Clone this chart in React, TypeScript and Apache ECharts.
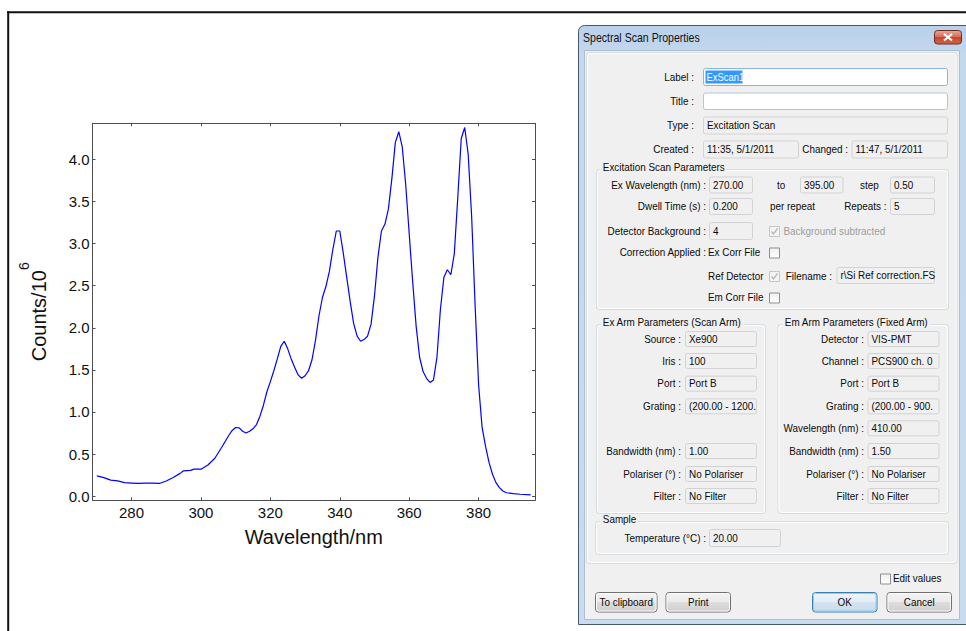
import React, { useEffect, useRef } from "react";
import * as echarts from "echarts";

// Excitation spectrum: wavelength (nm) and detector counts (x10^6)
const wavelengthNm = [
  270, 272, 274, 276, 278, 280, 282, 284, 286, 288, 290, 292, 294, 295, 297, 298, 300,
  302, 304, 306, 308, 309, 310, 311, 312, 313, 314, 315, 316, 317, 318, 319, 320,
  321, 322, 323, 324, 325, 326, 327, 328, 329, 330, 331, 332, 333, 334, 335, 336,
  337, 338, 339, 340, 341, 342, 343, 344, 345, 346, 347, 348, 349, 350, 351, 352,
  353, 354, 355, 356, 357, 358, 359, 360, 361, 362, 363, 364, 365, 366, 367, 368,
  369, 370, 371, 372, 373, 374, 375, 376, 377, 378, 379, 380, 381, 382, 383, 384,
  385, 386, 387, 388, 390, 392, 395,
];
const countsMillions = [
  0.24, 0.22, 0.19, 0.18, 0.16, 0.155, 0.15, 0.155, 0.155, 0.15, 0.18, 0.22, 0.27, 0.3, 0.305, 0.32, 0.32,
  0.37, 0.45, 0.58, 0.72, 0.78, 0.815, 0.81, 0.77, 0.75, 0.77, 0.8, 0.85, 0.95, 1.08, 1.24, 1.36,
  1.49, 1.63, 1.78, 1.84, 1.75, 1.63, 1.53, 1.44, 1.4, 1.43, 1.49, 1.62, 1.85, 2.14, 2.36, 2.49,
  2.67, 2.93, 3.15, 3.15, 2.89, 2.6, 2.31, 2.05, 1.9, 1.84, 1.86, 1.9, 2.04, 2.38, 2.84, 3.15,
  3.23, 3.41, 3.77, 4.2, 4.33, 4.15, 3.7, 3.12, 2.55, 2.02, 1.65, 1.48, 1.4, 1.35, 1.38, 1.65,
  2.22, 2.6, 2.69, 2.63, 2.88, 3.55, 4.25, 4.38, 4.06, 3.32, 2.26, 1.32, 0.82, 0.59, 0.4, 0.26,
  0.16, 0.1, 0.06, 0.04, 0.03, 0.022, 0.015,
];
const xTickValues = [280, 300, 320, 340, 360, 380];
const yTickValues = [0, 0.5, 1, 1.5, 2, 2.5, 3, 3.5, 4];

// Dialog contents
const dialogTitle = "Spectral Scan Properties";
const scanLabel = "ExScan1";
const scanType = "Excitation Scan";
const createdAt = "11:35, 5/1/2011";
const changedAt = "11:47, 5/1/2011";
const exRange = ["270.00", "395.00", "0.50"];
const dwellTime = "0.200";
const repeats = "5";
const detectorBackground = "4";
const refFilename = "r\\Si Ref correction.FS";
const exArmLabels = ["Source :", "Iris :", "Port :", "Grating :", "Bandwidth (nm) :", "Polariser (°) :", "Filter :"];
const exArmValues = ["Xe900", "100", "Port B", "(200.00 - 1200.", "1.00", "No Polariser", "No Filter"];
const emArmLabels = ["Detector :", "Channel :", "Port :", "Grating :", "Wavelength (nm) :", "Bandwidth (nm) :", "Polariser (°) :", "Filter :"];
const emArmValues = ["VIS-PMT", "PCS900 ch. 0", "Port B", "(200.00 - 900.", "410.00", "1.50", "No Polariser", "No Filter"];
const temperature = "20.00";
const buttonCaptions = ["To clipboard", "Print", "OK", "Cancel"];

const CHART_FONT = "'Liberation Sans', Arial, sans-serif";
const UI_FONT = "'Liberation Sans', Arial, sans-serif";
const AXIS_COLOR = "#4d4d4d";

type El = Record<string, any>;

const grad = (stops: [number, string][]) => ({
  type: "linear",
  x: 0,
  y: 0,
  x2: 0,
  y2: 1,
  colorStops: stops.map(([offset, color]) => ({ offset, color })),
});

const txt = (
  x: number,
  y: number,
  s: string,
  o: { align?: string; color?: string; size?: number; sx?: number; bg?: string } = {}
): El => {
  const align = o.align ?? "left";
  return {
    type: "text",
    x,
    y,
    scaleX: o.sx ?? 0.9,
    silent: true,
    z: 20,
    style: {
      text: s,
      fill: o.color ?? "#0a0a0a",
      font: `${o.size ?? 11}px ${UI_FONT}`,
      textAlign: align,
      align,
      textVerticalAlign: "middle",
      verticalAlign: "middle",
      ...(o.bg ? { backgroundColor: o.bg, padding: [0, 2] } : {}),
    },
  };
};

const box = (x: number, y: number, w: number, h: number, fill: any, stroke: string | null, r: any = 0, lw = 1): El => ({
  type: "rect",
  silent: true,
  z: 10,
  shape: { x, y, width: w, height: h, r },
  style: { fill, stroke: stroke ?? "none", lineWidth: lw },
});

const field = (x1: number, y1: number, x2: number, y2: number, value: string, kind: "ro" | "edit" | "focus" = "ro"): El[] => {
  const fill = kind === "ro" ? "#f0f0f0" : "#ffffff";
  const stroke = kind === "ro" ? "#d3d3d3" : kind === "focus" ? "#8ab4dc" : "#b6c4d3";
  const els = [box(x1 + 0.5, y1 + 0.5, x2 - x1 - 1, y2 - y1 - 1, fill, stroke, 2)];
  if (value) els.push(txt(x1 + 4, (y1 + y2) / 2, value));
  return els;
};

const checkbox = (x: number, y: number, checked: boolean, disabled: boolean): El[] => {
  const els: El[] = [
    box(
      x + 0.5,
      y + 0.5,
      10,
      10,
      disabled ? "#f4f4f4" : grad([[0, "#f0f0f0"], [1, "#ffffff"]]),
      disabled ? "#c6c6c6" : "#8e8f8f",
      0
    ),
  ];
  if (checked) {
    els.push({
      type: "polyline",
      silent: true,
      z: 11,
      shape: { points: [[x + 2.5, y + 5.5], [x + 4.5, y + 8], [x + 8.5, y + 2.5]] },
      style: { stroke: disabled ? "#b3b8bd" : "#333333", lineWidth: 1.3, fill: "none" },
    });
  }
  return els;
};

const groupBox = (x1: number, y1: number, x2: number, y2: number, title: string, tx: number): El[] => [
  box(x1 + 0.5, y1 + 0.5, x2 - x1 - 1, y2 - y1 - 1, "none", "#d3dce3", 3),
  box(x1 + 1.5, y1 + 1.5, x2 - x1 - 3, y2 - y1 - 3, "none", "#ffffff", 3),
  txt(tx, y1 - 1.5, title, { bg: "#f0f0f0" }),
];

const button = (x1: number, y1: number, x2: number, y2: number, caption: string, isDefault = false): El[] => [
  box(
    x1 + 0.5,
    y1 + 0.5,
    x2 - x1 - 1,
    y2 - y1 - 1,
    isDefault
      ? grad([[0, "#eef4f9"], [0.5, "#e3edf5"], [0.5, "#d5e3ef"], [1, "#c9dbea"]])
      : grad([[0, "#f3f3f3"], [0.5, "#ebebeb"], [0.5, "#dddddd"], [1, "#cfcfcf"]]),
    isDefault ? "#3c7fb1" : "#707070",
    3
  ),
  box(x1 + 1.5, y1 + 1.5, x2 - x1 - 3, y2 - y1 - 3, "none", isDefault ? "#8fd0f2" : "#fbfbfb", 2),
  txt((x1 + x2) / 2, (y1 + y2) / 2, caption, { align: "center" }),
];

function buildGraphics(): El[] {
  const els: El[] = [];

  // frame around the figure
  els.push({ type: "line", silent: true, z: 5, shape: { x1: 7, y1: 12.3, x2: 970, y2: 12.3 }, style: { stroke: "#111", lineWidth: 2 } });
  els.push({ type: "line", silent: true, z: 5, shape: { x1: 8.2, y1: 11.3, x2: 8.2, y2: 640 }, style: { stroke: "#111", lineWidth: 2 } });

  // window frame, body and title
  els.push(box(578.5, 25.5, 395, 599, grad([[0, "#b9d0ea"], [0.05, "#c4d8ee"], [1, "#c9dbef"]]), "#46566b", [6, 6, 0, 0]));
  els.push(box(584.5, 50.5, 375, 569, "#f0f0f0", "#aebfd2", 0));
  els.push(txt(583, 37.5, dialogTitle, { size: 12, sx: 0.88, color: "#111111" }));

  // close button
  els.push(box(934.5, 30.5, 27, 13.5, grad([[0, "#e9a99a"], [0.45, "#d9705c"], [0.5, "#c9462e"], [1, "#d0654a"]]), "#6c2c22", 3));
  els.push({ type: "line", silent: true, z: 12, shape: { x1: 944, y1: 34, x2: 952, y2: 40.5 }, style: { stroke: "#ffffff", lineWidth: 2.2 } });
  els.push({ type: "line", silent: true, z: 12, shape: { x1: 952, y1: 34, x2: 944, y2: 40.5 }, style: { stroke: "#ffffff", lineWidth: 2.2 } });

  // inner panel
  els.push(box(586.5, 52.5, 370.5, 511, "#f0f0f0", "#d3dce3", 3));
  els.push(box(587.5, 53.5, 368.5, 509, "none", "#ffffff", 3));

  // header rows
  els.push(txt(694, 77, "Label :", { align: "right" }));
  els.push(...field(703, 68, 948, 86, "", "focus"));
  els.push(box(705.5, 70.5, 37, 13, "#3399ff", null, 0));
  els.push(txt(706.5, 77, scanLabel, { color: "#ffffff", sx: 0.86 }));
  els.push(txt(694, 101.5, "Title :", { align: "right" }));
  els.push(...field(703, 92.5, 948, 110, "", "edit"));
  els.push(txt(694, 125.5, "Type :", { align: "right" }));
  els.push(...field(703, 116.5, 948, 134.5, scanType));
  els.push(txt(694, 149.5, "Created :", { align: "right" }));
  els.push(...field(703, 140.5, 799, 158.5, createdAt));
  els.push(txt(848, 149.5, "Changed :", { align: "right" }));
  els.push(...field(851.5, 140.5, 948, 158.5, changedAt));

  // excitation scan parameters
  els.push(...groupBox(596, 169, 949, 310, "Excitation Scan Parameters", 601));
  els.push(txt(706, 185, "Ex Wavelength (nm) :", { align: "right" }));
  els.push(...field(709, 176.5, 753, 193.5, exRange[0]));
  els.push(txt(777, 185, "to"));
  els.push(...field(800, 176.5, 843.5, 193.5, exRange[1]));
  els.push(txt(860, 185, "step"));
  els.push(...field(890, 176.5, 935, 193.5, exRange[2]));
  els.push(txt(706, 206.5, "Dwell Time (s) :", { align: "right" }));
  els.push(...field(709, 198, 753, 215, dwellTime));
  els.push(txt(770, 206.5, "per repeat"));
  els.push(txt(886.5, 206.5, "Repeats :", { align: "right" }));
  els.push(...field(890, 198, 935, 215, repeats));
  els.push(txt(706, 231, "Detector Background :", { align: "right" }));
  els.push(...field(709, 222, 753, 240, detectorBackground));
  els.push(...checkbox(769, 226, true, true));
  els.push(txt(783.5, 231, "Background subtracted", { color: "#9d9d9d" }));
  els.push(txt(706, 252.5, "Correction Applied :", { align: "right" }));
  els.push(txt(708, 252.5, "Ex Corr File"));
  els.push(...checkbox(769, 247.5, false, false));
  els.push(txt(708, 276, "Ref Detector"));
  els.push(...checkbox(769, 271, true, true));
  els.push(txt(832, 276, "Filename :", { align: "right" }));
  els.push(...field(836.5, 267, 935, 284, refFilename));
  els.push(txt(708, 297.5, "Em Corr File"));
  els.push(...checkbox(769, 292.5, false, false));

  // arm parameters
  els.push(...groupBox(596, 324, 766, 514, "Ex Arm Parameters (Scan Arm)", 601));
  els.push(...groupBox(777.5, 324, 949, 514, "Em Arm Parameters (Fixed Arm)", 783));
  const exRows = [339, 361, 383.7, 406.3, 451, 474, 496];
  exArmLabels.forEach((lab, i) => {
    const cy = exRows[i];
    els.push(txt(681, cy, lab, { align: "right" }));
    els.push(...field(685, cy - 8, 757, cy + 8, exArmValues[i]));
  });
  const emRows = [339, 361, 383.7, 406.3, 428.3, 451, 474, 496];
  emArmLabels.forEach((lab, i) => {
    const cy = emRows[i];
    els.push(txt(864, cy, lab, { align: "right" }));
    els.push(...field(867.5, cy - 8, 939.5, cy + 8, emArmValues[i]));
  });

  // sample
  els.push(...groupBox(595, 521, 949, 555, "Sample", 601));
  els.push(txt(706, 538, "Temperature (°C) :", { align: "right" }));
  els.push(...field(709, 529, 781, 547, temperature));

  // footer
  els.push(...checkbox(880, 573.5, false, false));
  els.push(txt(893, 578.5, "Edit values"));
  els.push(...button(595, 592, 657.5, 612.5, buttonCaptions[0]));
  els.push(...button(665.5, 592, 731, 612.5, buttonCaptions[1]));
  els.push(...button(812, 592, 877.5, 612.5, buttonCaptions[2], true));
  els.push(...button(886.5, 592, 952, 612.5, buttonCaptions[3]));

  return els;
}

export default function App() {
  const ref = useRef<HTMLDivElement>(null);

  useEffect(() => {
    if (!ref.current) return;
    const chart = echarts.init(ref.current, undefined, { renderer: "svg" });

    const xMin = 268.75;
    const xMax = 396.25;
    const yMin = -0.05;
    const yMax = 4.43;

    const frameAxis = (min: number, max: number) => ({
      type: "value" as const,
      min,
      max,
      splitLine: { show: false },
      axisLine: { show: true, onZero: false, lineStyle: { color: AXIS_COLOR, width: 1 } },
    });

    chart.setOption({
      animation: false,
      backgroundColor: "#ffffff",
      textStyle: { fontFamily: CHART_FONT },
      grid: { left: 92.5, top: 123.3, right: 431, bottom: 130.7 },
      xAxis: [
        {
          ...frameAxis(xMin, xMax),
          position: "bottom",
          axisTick: { inside: true, length: 3, customValues: xTickValues, lineStyle: { color: AXIS_COLOR } },
          axisLabel: {
            customValues: xTickValues,
            color: "#111",
            fontSize: 15,
            fontFamily: CHART_FONT,
            margin: 5,
          },
          name: "Wavelength/nm",
          nameLocation: "middle",
          nameGap: 27,
          nameTextStyle: { fontSize: 20, color: "#111", fontFamily: CHART_FONT },
        },
        {
          ...frameAxis(xMin, xMax),
          position: "top",
          axisTick: { inside: true, length: 3, customValues: xTickValues, lineStyle: { color: AXIS_COLOR } },
          axisLabel: { show: false },
        },
      ],
      yAxis: [
        {
          ...frameAxis(yMin, yMax),
          position: "left",
          axisTick: { inside: true, length: 3, customValues: yTickValues, lineStyle: { color: AXIS_COLOR } },
          axisLabel: {
            customValues: yTickValues,
            color: "#111",
            fontSize: 15,
            fontFamily: CHART_FONT,
            margin: 3,
            formatter: (v: number) => v.toFixed(1),
          },
          name: "{a|Counts/10}{s|6}",
          nameLocation: "middle",
          nameGap: 44,
          nameTextStyle: {
            color: "#111",
            fontFamily: CHART_FONT,
            rich: {
              a: { fontSize: 20, lineHeight: 32, color: "#111", fontFamily: CHART_FONT, verticalAlign: "bottom" },
              s: { fontSize: 14, lineHeight: 14, color: "#111", fontFamily: CHART_FONT, verticalAlign: "top" },
            },
          },
        },
        {
          ...frameAxis(yMin, yMax),
          position: "right",
          axisTick: { inside: true, length: 3, customValues: yTickValues, lineStyle: { color: AXIS_COLOR } },
          axisLabel: { show: false },
        },
      ],
      series: [
        {
          type: "line",
          xAxisIndex: 0,
          yAxisIndex: 0,
          data: wavelengthNm.map((w, i) => [w, countsMillions[i]]),
          symbol: "none",
          showSymbol: false,
          smooth: false,
          lineStyle: { color: "#0000ff", width: 1.2 },
        },
      ],
      graphic: buildGraphics(),
    });

    return () => chart.dispose();
  }, []);

  return (
    <div
      ref={ref}
      style={{ position: "fixed", left: 0, top: 0, width: 966, height: 631, background: "#fff" }}
    />
  );
}
